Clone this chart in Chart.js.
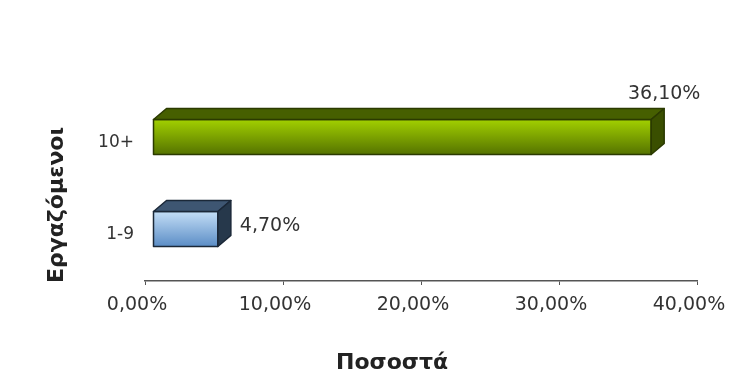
<!DOCTYPE html>
<html>
<head>
<meta charset="utf-8">
<script src="https://cdn.jsdelivr.net/npm/chart.js@4"></script>
<style>
    html, body { margin: 0; padding: 0; background: #fff; }
    #wrap { width: 747px; height: 375px; }
</style>
</head>
<body>
<div id="wrap"><canvas id="chart" width="747" height="375"></canvas></div>
<script>
// Data
const categories = ['10+', '1-9'];
const values = [36.1, 4.7];
const xTicks = [0, 10, 20, 30, 40];
const xTitle = 'Ποσοστά';
const yTitle = 'Εργαζόμενοι';

// colours per bar: [front top, front bottom, top face, side face, outline]
const barColors = [
    ['#a2d000', '#557300', '#465f00', '#3a4f00', '#2b3a00'],
    ['#c4def6', '#5b8dc6', '#3e5672', '#26384b', '#1b2838']
];

const fmtPct = v => v.toFixed(2).replace('.', ',') + '%';
const FONT = '"DejaVu Sans", Verdana, sans-serif';

// Excel-style 3D boxes + value labels
const depth = { dx: 13, dy: -11 };
const shift = { dx: 8, dy: -6 };
const box3d = {
    id: 'box3d',
    afterDatasetsDraw(chart) {
        const ctx = chart.ctx;
        const meta = chart.getDatasetMeta(0);
        const area = chart.chartArea;
        meta.data.forEach((bar, i) => {
            const p = bar.getProps(['x', 'y', 'base', 'height'], true);
            const c = barColors[i];
            const l = p.base + shift.dx, r = p.x + shift.dx;
            const t = p.y - p.height / 2 + shift.dy, b = p.y + p.height / 2 + shift.dy;
            ctx.save();
            ctx.lineJoin = 'round';
            ctx.lineWidth = 1.5;
            ctx.strokeStyle = c[4];

            // front
            const g = ctx.createLinearGradient(0, t, 0, b);
            g.addColorStop(0, c[0]);
            g.addColorStop(1, c[1]);
            ctx.fillStyle = g;
            ctx.fillRect(l, t, r - l, b - t);
            ctx.strokeRect(l, t, r - l, b - t);

            // top
            ctx.beginPath();
            ctx.moveTo(l, t);
            ctx.lineTo(l + depth.dx, t + depth.dy);
            ctx.lineTo(r + depth.dx, t + depth.dy);
            ctx.lineTo(r, t);
            ctx.closePath();
            ctx.fillStyle = c[2];
            ctx.fill();
            ctx.stroke();

            // side
            ctx.beginPath();
            ctx.moveTo(r, t);
            ctx.lineTo(r + depth.dx, t + depth.dy);
            ctx.lineTo(r + depth.dx, b + depth.dy);
            ctx.lineTo(r, b);
            ctx.closePath();
            ctx.fillStyle = c[3];
            ctx.fill();
            ctx.stroke();

            // value label
            const txt = fmtPct(values[i]);
            ctx.font = '19px ' + FONT;
            ctx.fillStyle = '#333';
            ctx.textBaseline = 'middle';
            const w = ctx.measureText(txt).width;
            const rx = r + depth.dx + 9;
            if (rx + w <= area.right) {
                ctx.textAlign = 'left';
                ctx.fillText(txt, rx, (t + b) / 2 - 3);
            } else {
                ctx.textAlign = 'center';
                ctx.fillText(txt, r + depth.dx, t + depth.dy - 14);
            }
            ctx.restore();
        });
    }
};

// axis titles, placed like the original
const axisTitles = {
    id: 'axisTitles',
    afterDraw(chart) {
        const ctx = chart.ctx;
        ctx.save();
        ctx.font = 'bold 22px ' + FONT;
        ctx.fillStyle = '#222';
        ctx.textAlign = 'center';
        ctx.textBaseline = 'middle';
        ctx.fillText(xTitle, 392, 363);
        ctx.translate(57, 205);
        ctx.rotate(-Math.PI / 2);
        ctx.fillText(yTitle, 0, 0);
        ctx.restore();
    }
};

new Chart(document.getElementById('chart'), {
    type: 'bar',
    data: {
        labels: categories,
        datasets: [{
            data: values,
            backgroundColor: 'rgba(0,0,0,0)',
            borderWidth: 0,
            categoryPercentage: 1,
            barPercentage: 0.38
        }]
    },
    options: {
        indexAxis: 'y',
        responsive: false,
        animation: false,
        events: [],
        layout: { padding: { top: 97, right: 50, left: 0, bottom: 0 } },
        plugins: {
            legend: { display: false },
            tooltip: { enabled: false }
        },
        scales: {
            x: {
                min: 0,
                max: 40,
                afterBuildTicks: s => { s.ticks = xTicks.map(v => ({ value: v })); },
                afterFit: s => { s.height = 94; },
                border: { display: true, color: '#555', width: 1.5 },
                grid: { drawOnChartArea: false, drawTicks: true, tickLength: 4, color: '#555' },
                ticks: {
                    padding: 9,
                    labelOffset: -8,
                    color: '#333',
                    font: { family: FONT, size: 19 },
                    callback: v => fmtPct(v)
                }
            },
            y: {
                afterFit: s => { s.width = 145; },
                border: { display: false },
                grid: { display: false, drawTicks: false },
                ticks: {
                    padding: 11,
                    color: '#333',
                    font: { family: FONT, size: 17 }
                }
            }
        }
    },
    plugins: [box3d, axisTitles]
});
</script>
</body>
</html>
